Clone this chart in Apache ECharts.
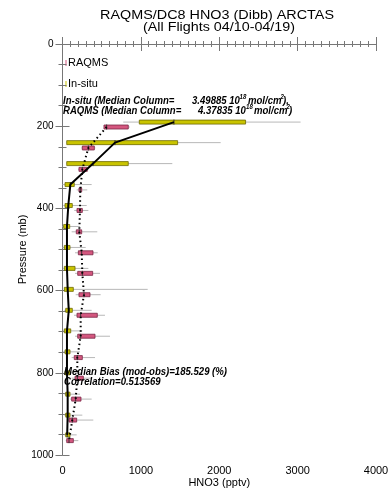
<!DOCTYPE html>
<html><head><meta charset="utf-8">
<script src="https://cdn.jsdelivr.net/npm/echarts@6/dist/echarts.min.js"></script>
<style>html,body{margin:0;padding:0;background:#fff}#c{width:390px;height:491px}</style>
</head><body><div id="c"></div>
<script>
// ---- data ----
const xTicks = [0, 1000, 2000, 3000, 4000];
const yTicks = [0, 200, 400, 600, 800, 1000];

// In-situ (DC8) statistics per pressure bin: pressure, whisker low, box low, median, box high, whisker high
const insituPressure = [190, 240, 291, 342, 393, 444, 495, 546, 597, 648, 698, 749, 800, 852, 903, 951];
const insituWhiskLo  = [775, 54, 54, 0, 10, 0, 0, 10, 23, 23, 10, 10, 20, 23, 23, 23];
const insituBoxLo    = [980, 54, 54, 32, 32, 15, 23, 23, 23, 41, 23, 32, 32, 41, 41, 41];
const insituMedian   = [1422, 670, 390, 100, 74, 57, 57, 57, 66, 80, 57, 57, 57, 66, 66, 60];
const insituBoxHi    = [2336, 1469, 839, 150, 125, 92, 96, 160, 138, 125, 105, 96, 96, 96, 96, 96];
const insituWhiskHi  = [3038, 2018, 1401, 372, 309, 223, 296, 330, 1087, 372, 253, 223, 250, 223, 253, 181];

// RAQMS statistics per pressure bin
const raqmsPressure = [202, 253, 305, 355, 405, 457, 508, 558, 610, 660, 711, 763, 813, 864, 915, 965];
const raqmsWhiskLo  = [529, 240, 200, 181, 150, 117, 160, 160, 168, 147, 160, 117, 117, 96, 66, 41];
const raqmsBoxLo    = [529, 253, 210, 210, 185, 176, 202, 194, 210, 185, 194, 150, 160, 117, 83, 54];
const raqmsMedian   = [563, 330, 253, 227, 223, 214, 245, 253, 274, 232, 232, 189, 189, 168, 125, 83];
const raqmsBoxHi    = [839, 406, 316, 245, 253, 245, 389, 385, 351, 444, 415, 253, 266, 236, 181, 138];
const raqmsWhiskHi  = [860, 420, 330, 316, 330, 444, 449, 478, 487, 542, 606, 415, 372, 372, 393, 202];

const titleLines = ['RAQMS/DC8 HNO3 (Dibb) ARCTAS', '(All Flights 04/10-04/19)'];
const insituColumn = '3.49885';
const raqmsColumn = '4.37835';
const medianBias = '185.529';
const correlation = '0.513569';

// ---- build ----
function rows(p, a, b, c, d, e) { return p.map((v, i) => [v, a[i], b[i], c[i], d[i], e[i]]); }
const insituRows = rows(insituPressure, insituWhiskLo, insituBoxLo, insituMedian, insituBoxHi, insituWhiskHi);
const raqmsRows = rows(raqmsPressure, raqmsWhiskLo, raqmsBoxLo, raqmsMedian, raqmsBoxHi, raqmsWhiskHi);

const mctx = document.createElement('canvas').getContext('2d');
function tw(text, font) { mctx.font = font; return mctx.measureText(text).width; }

function boxRenderer(fill, stroke) {
  return function (params, api) {
    const p = api.value(0);
    const y = api.coord([0, p])[1];
    const xwl = api.coord([api.value(1), p])[0];
    const xbl = api.coord([api.value(2), p])[0];
    const xm = api.coord([api.value(3), p])[0];
    const xbh = api.coord([api.value(4), p])[0];
    const xwh = api.coord([api.value(5), p])[0];
    return {
      type: 'group',
      children: [
        { type: 'line', shape: { x1: xwl, y1: y, x2: xwh, y2: y }, style: { stroke: '#b8b8b8', lineWidth: 1 } },
        { type: 'rect', shape: { x: xbl, y: y - 2, width: Math.max(xbh - xbl, 1), height: 4 }, style: { fill: fill, stroke: stroke, lineWidth: 0.8 } },
        { type: 'line', shape: { x1: xm, y1: y - 2.5, x2: xm, y2: y + 2.5 }, style: { stroke: '#333', lineWidth: 1 } }
      ]
    };
  };
}

const axisColor = '#777';
const titleFont = '13px "Liberation Sans", Arial, sans-serif';
const annFont = 'italic bold 11px "Liberation Sans", Arial, sans-serif';
const annScale = 163 / tw('Median Bias (mod-obs)=' + medianBias + ' (%)', annFont);

function annText(x, y, text, size) {
  return { type: 'text', x: x, y: y, scaleX: annScale, z: 100,
    style: { text: text, font: 'italic bold ' + (size || 11) + 'px "Liberation Sans", Arial, sans-serif', fill: '#000', textAlign: 'left', textVerticalAlign: 'middle' } };
}

const majTick = { show: true, inside: true, length: 7, lineStyle: { color: axisColor } };
function minTick(n, len) { return { show: true, splitNumber: n, length: len, lineStyle: { color: axisColor } }; }

const chart = echarts.init(document.getElementById('c'), null, { renderer: 'canvas' });
const commonX = { type: 'value', min: xTicks[0], max: xTicks[xTicks.length - 1], interval: 1000 };
const commonY = { type: 'value', min: yTicks[0], max: yTicks[yTicks.length - 1], interval: 200, inverse: true };
chart.setOption({
  animation: false,
  grid: { left: 62.5, right: 14, top: 44, bottom: 36, containLabel: false, outerBoundsMode: 'none' },
  xAxis: [
    Object.assign({}, commonX, {
      position: 'bottom', name: 'HNO3 (pptv)', nameLocation: 'middle', nameGap: 22, nameMoveOverlap: false,
      nameTextStyle: { fontSize: 11, color: '#000', fontFamily: 'Liberation Sans' },
      axisLine: { show: true, lineStyle: { color: axisColor } },
      axisTick: majTick, minorTick: minTick(10, 3),
      axisLabel: { fontSize: 11, color: '#000', margin: 10, fontFamily: 'Liberation Sans', formatter: v => String(v) },
      splitLine: { show: false }
    }),
    Object.assign({}, commonX, {
      position: 'top',
      axisLine: { show: true, lineStyle: { color: axisColor } },
      axisTick: majTick, minorTick: minTick(10, 3),
      axisLabel: { show: false }, splitLine: { show: false }
    })
  ],
  yAxis: [
    Object.assign({}, commonY, {
      position: 'left', name: 'Pressure (mb)', nameLocation: 'middle', nameGap: 34, nameMoveOverlap: false,
      nameTextStyle: { fontSize: 11, color: '#000', fontFamily: 'Liberation Sans' },
      axisLine: { show: true, lineStyle: { color: axisColor } },
      axisTick: majTick, minorTick: minTick(4, 4),
      axisLabel: { fontSize: 10, color: '#000', margin: 9, fontFamily: 'Liberation Sans', formatter: v => String(v) },
      splitLine: { show: false }
    }),
    Object.assign({}, commonY, {
      position: 'right',
      axisLine: { show: true, lineStyle: { color: axisColor } },
      axisTick: majTick, minorTick: minTick(4, 4),
      axisLabel: { show: false }, splitLine: { show: false }
    })
  ],
  series: [
    { name: 'In-situ', type: 'custom', xAxisIndex: 0, yAxisIndex: 0, data: insituRows,
      encode: { y: 0, x: [1, 2, 3, 4, 5] }, renderItem: boxRenderer('#c9c400', '#6d6a00'), z: 2 },
    { name: 'RAQMS', type: 'custom', xAxisIndex: 0, yAxisIndex: 0, data: raqmsRows,
      encode: { y: 0, x: [1, 2, 3, 4, 5] }, renderItem: boxRenderer('#d4577f', '#7a2645'), z: 2 },
    { type: 'line', xAxisIndex: 0, yAxisIndex: 0, data: insituPressure.map((p, i) => [insituMedian[i], p]),
      symbol: 'none', lineStyle: { color: '#000', width: 2 }, z: 5 },
    { type: 'line', xAxisIndex: 0, yAxisIndex: 0, data: raqmsPressure.map((p, i) => [raqmsMedian[i], p]),
      symbol: 'none', lineStyle: { color: '#000', width: 2, type: [1.5, 3] }, z: 5 }
  ],
  graphic: [
    { type: 'text', x: 217, y: 15, scaleX: 234 / tw(titleLines[0], titleFont), style: { text: titleLines[0], font: titleFont, fill: '#000', textAlign: 'center', textVerticalAlign: 'middle' } },
    { type: 'text', x: 219, y: 27, scaleX: 152 / tw(titleLines[1], titleFont), style: { text: titleLines[1], font: titleFont, fill: '#000', textAlign: 'center', textVerticalAlign: 'middle' } },
    // legend
    { type: 'rect', shape: { x: 65.5, y: 60, width: 1, height: 6 }, style: { fill: '#d4577f' } },
    { type: 'text', x: 68, y: 63, style: { text: 'RAQMS', font: '11px "Liberation Sans", Arial, sans-serif', fill: '#000', textVerticalAlign: 'middle' } },
    { type: 'rect', shape: { x: 65.5, y: 81, width: 1, height: 6 }, style: { fill: '#c9c400' } },
    { type: 'text', x: 68, y: 84, style: { text: 'In-situ', font: '11px "Liberation Sans", Arial, sans-serif', fill: '#000', textVerticalAlign: 'middle' } },
    // column annotations
    annText(63, 101, 'In-situ (Median Column='),
    annText(192, 101, insituColumn + ' 10'),
    annText(239.5, 97.5, '18', 7),
    annText(248, 101, 'mol/cm'),
    annText(280.5, 97.5, '2', 7),
    annText(283, 101, '),'),
    annText(63, 111, 'RAQMS (Median Column='),
    annText(198, 111, raqmsColumn + ' 10'),
    annText(246, 107.5, '18', 7),
    annText(254, 111, 'mol/cm'),
    annText(286.5, 107.5, '2', 7),
    annText(289, 111, ')'),
    annText(64, 372, 'Median Bias (mod-obs)=' + medianBias + ' (%)'),
    annText(64, 382, 'Correlation=' + correlation)
  ]
});
</script></body></html>
